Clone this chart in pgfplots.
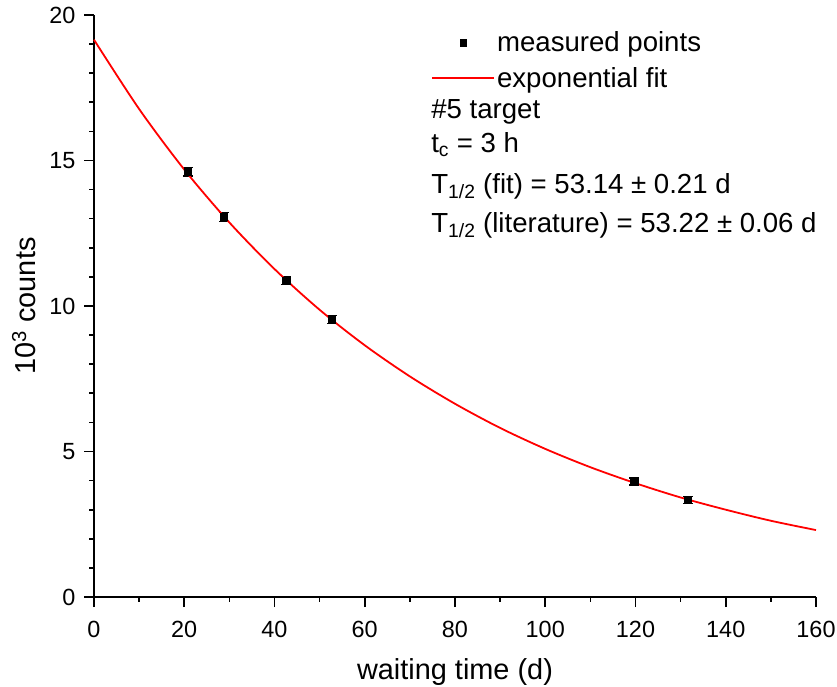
\documentclass[border=0pt]{standalone}
\usepackage{fontspec}
\setmainfont{Liberation Sans}
\usepackage{pgfplots}
\pgfplotsset{compat=1.18}

\pgfplotstableread{
x      y      e
20.8   14.62  0.15
28.8   13.06  0.15
42.6   10.88  0.14
52.7   9.53   0.14
119.7  3.97   0.12
131.6  3.33   0.12
}\measured

\begin{document}
\begin{tikzpicture}
\useasboundingbox (-94bp,-90bp) rectangle (743bp,597bp);
\begin{axis}[
    at={(0,0)}, anchor=south west,
    scale only axis,
    width=722bp, height=582bp,
    xmin=0, xmax=160, ymin=0, ymax=20,
    axis x line*=bottom, axis y line*=left,
    xtick={0,20,...,160}, minor x tick num=1,
    ytick={0,5,...,20}, minor y tick num=4,
    tick align=outside,
    major tick length=10bp, minor tick length=4.5bp,
    every tick/.style={black, line width=1.6bp},
    axis line style={black, line width=1.6bp},
    tick label style={font=\fontsize{23.5}{28}\selectfont},
    xticklabel style={yshift=-11bp},
    yticklabel style={xshift=-5bp},
    /pgf/number format/assume math mode=true,
    xlabel={waiting time (d)},
    ylabel={10\textsuperscript{3} counts},
    label style={font=\fontsize{29}{34}\selectfont},
    xlabel style={at={(axis description cs:0.5,-0.1426)}, anchor=base},
    ylabel style={at={(axis description cs:-0.0817,0.5)}, anchor=base},
    legend style={draw=none, fill=none, at={(axis cs:74.7,19.5)}, anchor=north west,
        inner sep=0pt, row sep=10bp,
        nodes={inner sep=2bp, font=\fontsize{27.7}{32}\selectfont}},
    legend cell align=left,
    clip=false,
]
\addplot[only marks, mark=square*, mark size=3.6bp, black,
    legend image code/.code={
        \path[draw=none, fill=none] (0bp,0bp) rectangle (62bp,0bp);
        \draw[black] plot[only marks, mark=square*, mark size=3.3bp] coordinates {(31bp,0bp)};},
    error bars/.cd, y dir=both, y explicit,
    error bar style={line width=1.2bp, black},
    error mark options={rotate=90, mark size=5bp, line width=1.2bp}]
    table[x=x, y=y, y error=e] {\measured};
\addlegendentry{measured points}
\addlegendimage{legend image code/.code={\draw[red, line width=1.8bp] (0bp,0bp) -- (62bp,0bp);}}
\addlegendentry{exponential fit}
\addplot[red, line width=1.8bp, smooth, forget plot] coordinates {
    (0,19.15) (10,16.77) (20,14.69) (30,12.87) (40,11.27) (50,9.87)
    (60,8.65) (70,7.58) (80,6.64) (90,5.81) (100,5.09) (110,4.46)
    (120,3.91) (130,3.42) (140,3.00) (150,2.62) (160,2.30)
};
\node[anchor=base west, font=\fontsize{27.7}{32}\selectfont, inner sep=0pt] at (axis cs:74.7,16.46) {\#5 target};
\node[anchor=base west, font=\fontsize{27.7}{32}\selectfont, inner sep=0pt] at (axis cs:74.7,15.26) {t\textsubscript{c} = 3 h};
\node[anchor=base west, font=\fontsize{27.7}{32}\selectfont, inner sep=0pt] at (axis cs:74.7,13.88) {T\textsubscript{1/2} (fit) = 53.14 ± 0.21 d};
\node[anchor=base west, font=\fontsize{27.7}{32}\selectfont, inner sep=0pt] at (axis cs:74.7,12.54) {T\textsubscript{1/2} (literature) = 53.22 ± 0.06 d};
\end{axis}
\end{tikzpicture}
\end{document}
